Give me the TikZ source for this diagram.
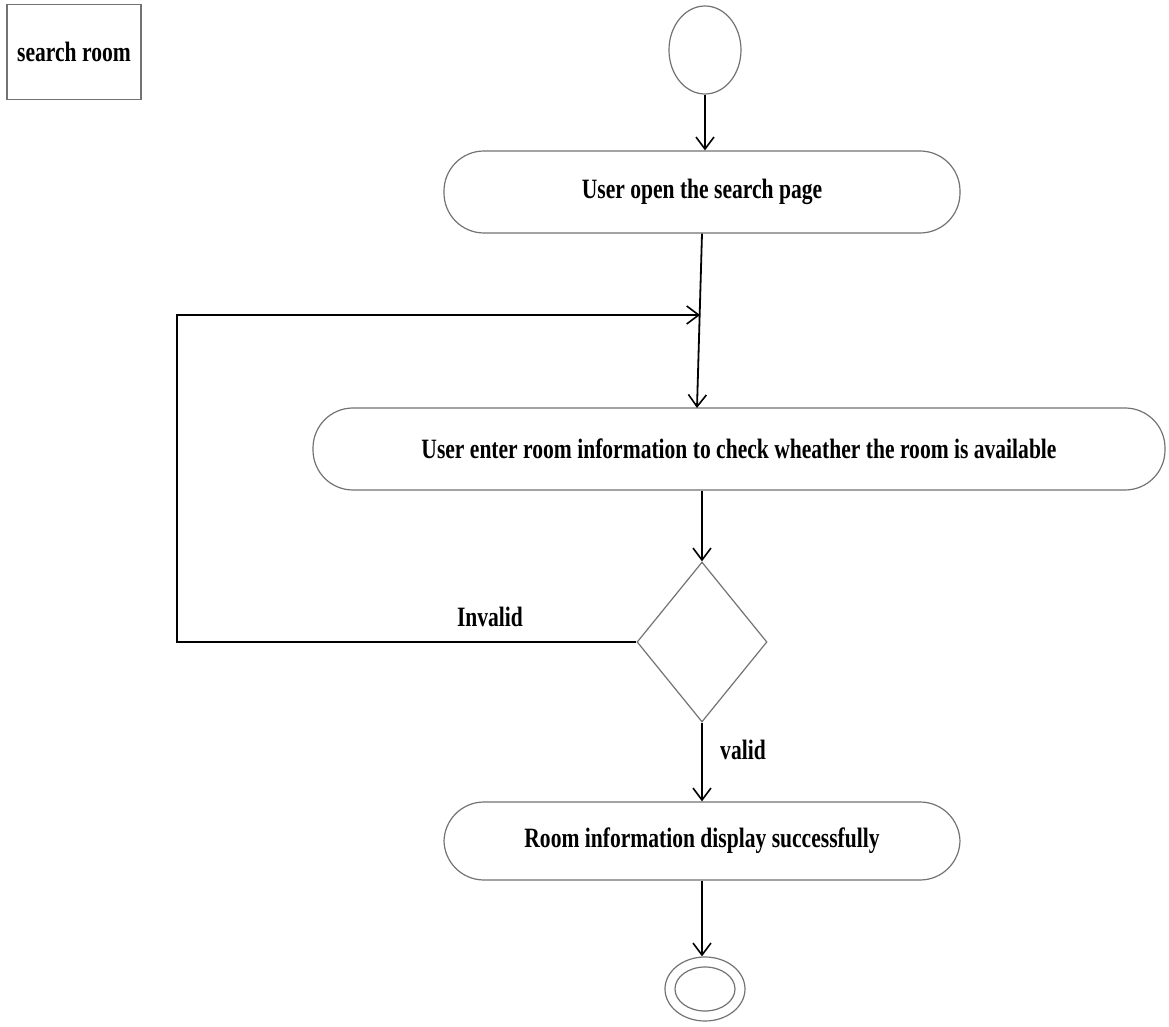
\documentclass[tikz,border=0pt]{standalone}
\usepackage{fontspec}
\setmainfont{Liberation Serif}
\usetikzlibrary{arrows.meta,shapes.geometric,calc}

\tikzset{
  shapeline/.style={draw=black!55, line width=0.6pt},
  action/.style={shapeline, rounded corners=20pt, minimum height=41pt},
  lbl/.style={font=\bfseries\fontsize{14}{14}\selectfont, inner sep=0pt},
  flow/.style={draw=black, line width=0.9pt, -{Straight Barb[length=6pt,width=9pt,line width=0.8pt]}},
  plain/.style={draw=black, line width=0.9pt}
}
\newcommand{\sq}[1]{\scalebox{0.77}[1]{#1}}

\begin{document}
\begin{tikzpicture}[x=0.5pt, y=-0.5pt]
  \fill[white] (0,0) rectangle (1169,1027);
  \useasboundingbox (0,0) rectangle (1169,1027);

  % frame label
  \node[shapeline, minimum width=67pt, minimum height=47.5pt] (title) at (74,52) {};
  \node[lbl] at (title.center) {\sq{search room}};

  % start node
  \node[shapeline, ellipse, minimum width=36pt, minimum height=44pt, inner sep=0pt] (start) at (705,50) {};

  % actions
  \node[action, minimum width=258pt] (a1) at (702,192) {};
  \node[lbl] at (a1.center) {\sq{User open the search page}};

  \node[action, minimum width=426pt] (a2) at (739,449) {};
  \node[lbl] at (a2.center) {\sq{User enter room information to check wheather the room is available}};

  \node[action, minimum width=258pt, minimum height=39pt] (a3) at (702,841) {};
  \node[lbl] at (a3.center) {\sq{Room information display successfully}};

  % decision
  \node[shapeline, diamond, minimum width=65pt, minimum height=80pt, inner sep=0pt] (dec) at (702,642) {};

  % final node
  \node[shapeline, ellipse, minimum width=40pt, minimum height=32pt, inner sep=0pt] (final) at (705,989) {};
  \node[shapeline, ellipse, minimum width=30pt, minimum height=22pt, inner sep=0pt] (finalin) at (705,989) {};

  % flow
  \coordinate (j) at (700,315);
  \coordinate (a2in) at (697,408);
  \coordinate (cornerT) at (177,315);
  \coordinate (cornerB) at (177,642);

  \draw[flow] (start.south) -- (start.south |- a1.north);
  \draw[flow] (a1.south) -- (a2in);
  \draw[flow] (dec.west) -- (cornerB) -- (cornerT) -- (j);
  \draw[flow] (a2.south -| dec.north) -- (dec.north);
  \draw[flow] (dec.south) -- (a3.north);
  \draw[flow] (a3.south) -- (final.north -| a3.south);

  % guards
  \node[lbl] (inv) at (490,617) {\sq{Invalid}};
  \node[lbl] (val) at (743,750) {\sq{valid}};
\end{tikzpicture}
\end{document}
